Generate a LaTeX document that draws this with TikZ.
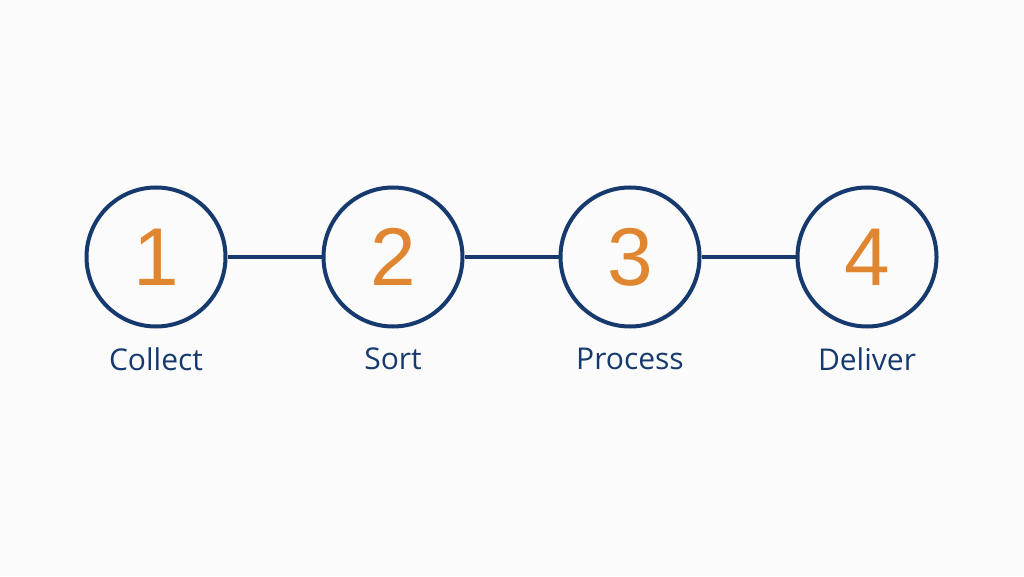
\documentclass[tikz,border=0pt]{standalone}
\usepackage{fontspec}
\setmainfont{Liberation Sans}
\newfontfamily\labelfont{Open Sans}
\definecolor{navy}{HTML}{173A6E}
\definecolor{orng}{HTML}{E08530}
\definecolor{bg}{HTML}{FBFBFB}
\begin{document}
\begin{tikzpicture}[x=1pt,y=1pt,
  stepcircle/.style={circle, draw=navy, line width=4pt, minimum size=139pt, inner sep=0pt,
    text=orng, font=\fontsize{82}{82}\selectfont},
  steplabel/.style={text=navy, font=\labelfont\fontsize{30}{30}\selectfont, anchor=center},
  link/.style={draw=navy, line width=3.5pt}]
\fill[bg] (0,0) rectangle (1024,576);
\useasboundingbox (0,0) rectangle (1024,576);
\node[stepcircle] (c1) at (156,319) {1};
\node[stepcircle] (c2) at (393,319) {2};
\node[stepcircle] (c3) at (630,319) {3};
\node[stepcircle] (c4) at (867,319) {4};
\node[steplabel] (l1) at (156,217) {Collect};
\node[steplabel] (l2) at (393,217) {Sort};
\node[steplabel] (l3) at (630,217) {Process};
\node[steplabel] (l4) at (867,217) {Deliver};
\draw[link] (c1) -- (c2);
\draw[link] (c2) -- (c3);
\draw[link] (c3) -- (c4);
\end{tikzpicture}
\end{document}
